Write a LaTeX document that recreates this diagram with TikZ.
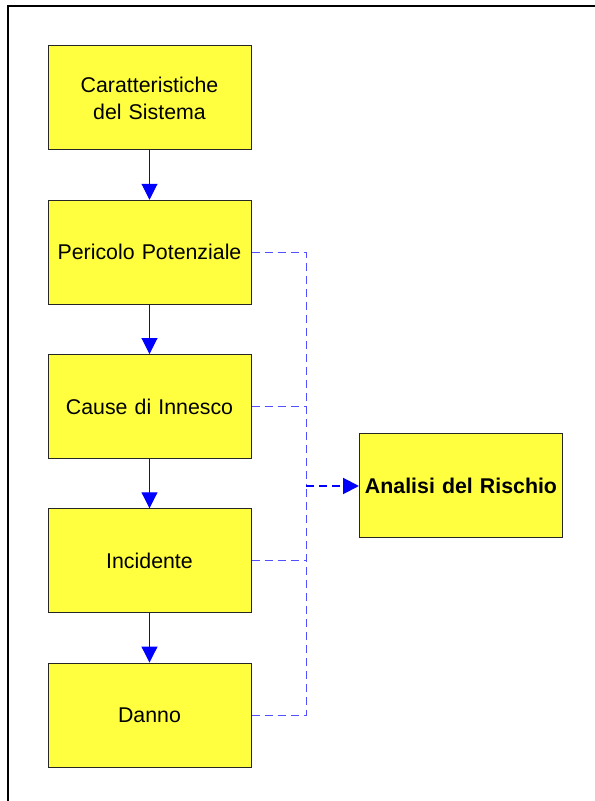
\documentclass[tikz,border=0pt]{standalone}
\usepackage{fontspec}
\setmainfont{Liberation Sans}
\usetikzlibrary{positioning,arrows.meta}

\definecolor{boxyellow}{RGB}{255,255,64}
\definecolor{flowblue}{RGB}{0,0,255}
\definecolor{linkblue}{RGB}{80,80,255}

\tikzset{
  stagebox/.style={draw=black!85, fill=boxyellow, line width=0.75pt,
    minimum width=152.25pt, minimum height=78pt, text width=145pt,
    align=center, font=\fontsize{16pt}{20.3pt}\selectfont},
  flowarrow/.style={draw=flowblue, line width=0.75pt,
    -{Triangle[width=12pt,length=12pt]}},
  linkline/.style={draw=linkblue, line width=0.75pt, dash pattern=on 6pt off 3.75pt},
  riskarrow/.style={draw=flowblue, line width=1.5pt, dash pattern=on 6pt off 3.75pt,
    -{Triangle[width=12pt,length=12pt]}}
}

\begin{document}
\begin{tikzpicture}[x=0.75pt,y=0.75pt, node distance=36.95pt]
        \useasboundingbox (0,0) rectangle (594,801);
        % outer frame
        \draw[line width=1.5pt] (7.5,-5) -- (7.5,794.5) -- (600,794.5);
        % chain of stages
        \node[stagebox] (sistema) at (149.5,703) {Caratteristiche\\del Sistema};
        \node[stagebox, below=of sistema]   (pericolo)  {Pericolo Potenziale};
        \node[stagebox, below=of pericolo]  (cause)     {Cause di Innesco};
        \node[stagebox, below=of cause]     (incidente) {Incidente};
        \node[stagebox, below=of incidente] (danno)     {Danno};
        \draw[flowarrow] (sistema)   -- (pericolo);
        \draw[flowarrow] (pericolo)  -- (cause);
        \draw[flowarrow] (cause)     -- (incidente);
        \draw[flowarrow] (incidente) -- (danno);
        % risk analysis
        \node[stagebox, font=\bfseries\fontsize{16pt}{20.3pt}\selectfont] (analisi) at (461,315) {Analisi del Rischio};
        \coordinate (bus) at (306,315);
        % dashed links to the bus
        \draw[linkline] (pericolo.east)  -| (bus);
        \draw[linkline] (danno.east)     -| (bus);
        \draw[linkline] (cause.east)     -- (cause.east -| bus);
        \draw[linkline] (incidente.east) -- (incidente.east -| bus);
        \draw[riskarrow] (bus) -- (analisi.west);
\end{tikzpicture}
\end{document}
